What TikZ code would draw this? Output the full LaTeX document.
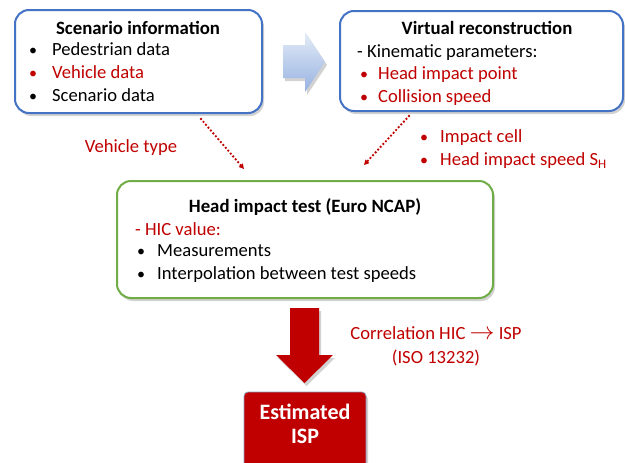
\documentclass[tikz,border=0pt]{standalone}
\usepackage{fontspec}
\setmainfont{Carlito}
\usetikzlibrary{shadows,arrows.meta,calc}
\definecolor{boxblue}{HTML}{4472C4}
\definecolor{boxgreen}{HTML}{70AD47}
\definecolor{darkred}{HTML}{C00000}
\definecolor{txtred}{HTML}{C00000}
\definecolor{arrowtop}{RGB}{228,236,247}
\definecolor{arrowbot}{RGB}{150,177,225}
\begin{document}
\begin{tikzpicture}[x=1pt,y=-1pt,
  box/.style={draw, line width=2pt, rounded corners=14pt, fill=white,
    drop shadow={shadow xshift=2pt, shadow yshift=-3pt, opacity=0.35}},
  txt/.style={font=\fontsize{18.6}{22}\selectfont, inner sep=0pt,
    text height=0.7em, text depth=0.2em, yshift=-3pt},
  ltxt/.style={txt, anchor=west},
  ttl/.style={txt, font=\fontsize{18.8}{22}\selectfont\bfseries},
  isptxt/.style={txt, font=\fontsize{22}{26}\selectfont\bfseries, text=white},
  rtxt/.style={ltxt, text=txtred},
  bul/.style={txt, anchor=center, font=\fontsize{16}{20}\selectfont},
  dotarrow/.style={draw=darkred, line width=2.6pt, line cap=round, dash pattern=on 0pt off 3.8pt,
    -{Triangle[length=5pt,width=5pt]}},
  bigshadow/.style={drop shadow={shadow xshift=2pt, shadow yshift=-3pt, opacity=0.35}}
]
\clip (0,0) rectangle (625,463);
\fill[white] (0,0) rectangle (625,463);

% boxes
\node[box, draw=boxblue, minimum width=247pt, minimum height=103pt] (box1) at (138.5,61.5) {};
\node[box, draw=boxblue, minimum width=283pt, minimum height=100pt] (box2) at (481.5,61) {};
\node[box, draw=boxgreen, minimum width=376pt, minimum height=117pt] (box3) at (305,239.5) {};
\node[draw=boxblue!55!gray!70, line width=0.8pt, fill=darkred, rounded corners=4pt,
  minimum width=122pt, minimum height=90pt, bigshadow] (isp) at (305,437) {};

% big arrows
\path[shade, top color=arrowtop, bottom color=arrowbot, bigshadow]
  (283,45) -- (305,45) -- (305,32) -- (325,62) -- (305,92) -- (305,78) -- (283,78) -- cycle;
\path[fill=darkred, bigshadow]
  (290,308) -- (319,308) -- (319,355) -- (333,355) -- (304.5,383) -- (276,355) -- (290,355) -- cycle;

% box 1 text
\node[ttl] (t1) at (138,29) {Scenario information};
\node[bul] (b11) at (33,50) {•};
\node[ltxt] (l11) at (52,50) {Pedestrian data};
\node[bul, text=txtred] (b12) at (33,73) {•};
\node[rtxt] (l12) at (52,73) {Vehicle data};
\node[bul] (b13) at (33,96) {•};
\node[ltxt] (l13) at (52,96) {Scenario data};

% box 2 text
\node[ttl] (t2) at (487,29) {Virtual reconstruction};
\node[ltxt] (l21) at (357,52) {- Kinematic parameters:};
\node[bul, text=txtred] (b22) at (364,74) {•};
\node[rtxt] (l22) at (378,74) {Head impact point};
\node[bul, text=txtred] (b23) at (364,97) {•};
\node[rtxt] (l23) at (378,97) {Collision speed};

% labels between
\node[txt, text=txtred] (vt) at (131,147) {Vehicle type};
\node[bul, text=txtred] (b31) at (424,137) {•};
\node[rtxt] (l31) at (440,137) {Impact cell};
\node[bul, text=txtred] (b32) at (424,160) {•};
\node[rtxt] (l32) at (440,160) {Head impact speed S\textsubscript{H}};

% box 3 text
\node[ttl] (t3) at (305,207) {Head impact test (Euro NCAP)};
\node[rtxt] (l41) at (135,230) {- HIC value:};
\node[bul] (b42) at (141,251) {•};
\node[ltxt] (l42) at (157,251) {Measurements};
\node[bul] (b43) at (141,274) {•};
\node[ltxt] (l43) at (157,274) {Interpolation between test speeds};

% correlation
\node[txt, text=txtred] (c1) at (436,334) {Correlation HIC {\fontsize{25}{25}\selectfont$\rightarrow$} ISP};
\node[txt, text=txtred] (c2) at (436,358) {(ISO 13232)};

% ISP text
\node[isptxt] (i1) at (305,414) {Estimated};
\node[isptxt] (i2) at (305,438) {ISP};

% dotted connectors
\coordinate (d1s) at ($(box1.south west)+(187,5)$);
\coordinate (d1e) at ($(box3.north west)+(128,-11)$);
\coordinate (d2s) at ($(box2.south west)+(70,4)$);
\coordinate (d2e) at ($(box3.north west)+(248,-15)$);
\draw[dotarrow] (d1s) -- (d1e);
\draw[dotarrow] (d2s) -- (d2e);
\end{tikzpicture}
\end{document}
